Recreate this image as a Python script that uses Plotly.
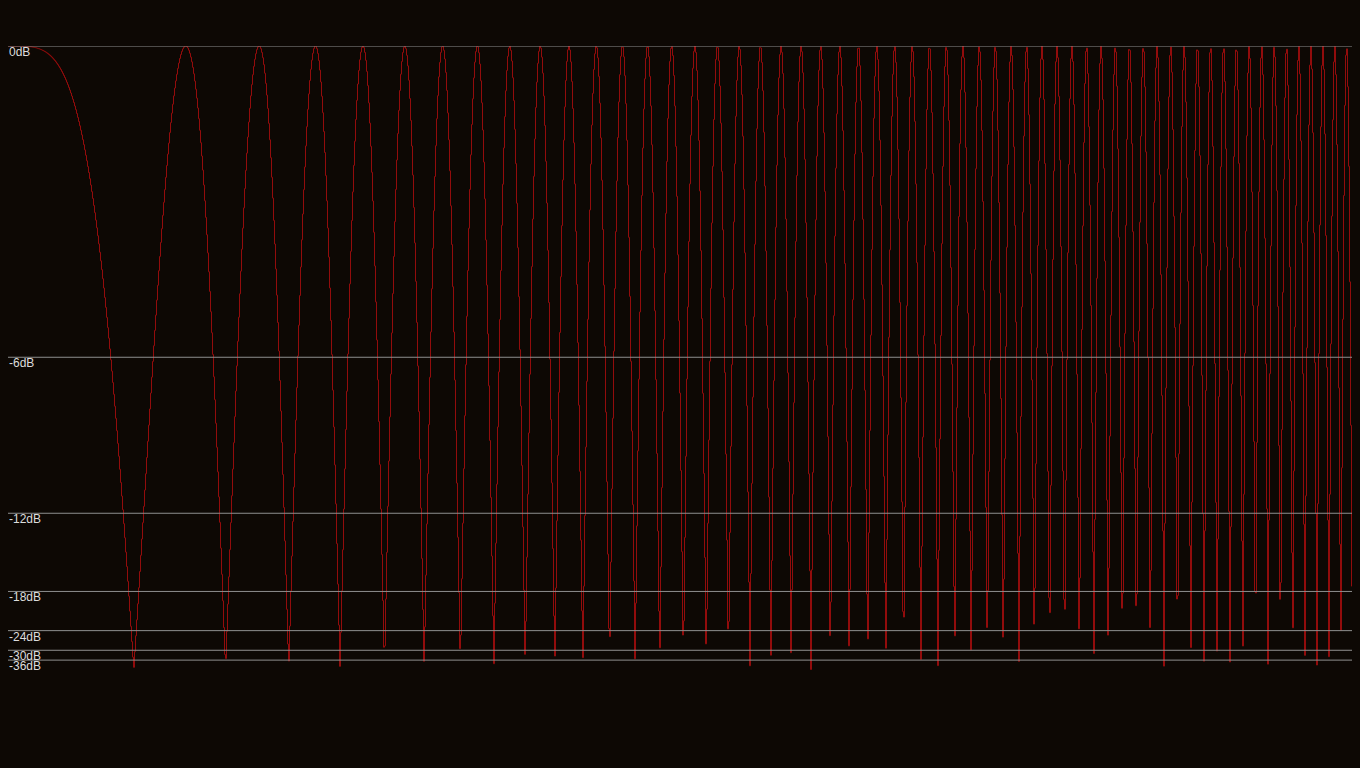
import numpy as np
import plotly.graph_objects as go

# ---- data ----
db_ticks = [0, -6, -12, -18, -24, -30, -36]
tick_labels = ["0dB", "-6dB", "-12dB", "-18dB", "-24dB", "-30dB", "-36dB"]
comb_delay_samples = 115          # feed-forward comb delay (samples)
comb_gains = [0.5, 0.5]           # direct path gain, delayed path gain
n_columns = 1344                  # one response sample per screen column

BG = "#0d0804"
CURVE = "#920c0c"
GRID = "#8f8f8f"
TEXT = "#dcdcdc"

# frequency axis: sqrt-warped normalised frequency (0 .. Nyquist), sampled at column centres
u = (np.arange(n_columns) + 0.5) / n_columns
omega = np.pi * u ** 2
H = comb_gains[0] + comb_gains[1] * np.exp(-1j * omega * comb_delay_samples)
mag = np.abs(H)

tick_amp = [10 ** (d / 20.0) for d in db_ticks]

fig = go.Figure()
fig.add_trace(go.Scatter(
    x=u, y=mag, mode="lines",
    line=dict(color=CURVE, width=1, shape="hv"),
    hoverinfo="skip", showlegend=False,
))

shapes = []
annotations = []
for amp, lab in zip(tick_amp, tick_labels):
    shapes.append(dict(type="line", xref="paper", yref="y", x0=0, x1=1,
                       y0=amp, y1=amp, layer="above",
                       line=dict(color=GRID, width=1)))
    annotations.append(dict(xref="paper", yref="y", x=0, y=amp,
                            xanchor="left", yanchor="top", text=lab,
                            showarrow=False, borderpad=0, yshift=2,
                            font=dict(family="Liberation Sans, Arial", size=12, color=TEXT)))

fig.update_layout(
    width=1360, height=768,
    paper_bgcolor=BG, plot_bgcolor=BG,
    margin=dict(l=8, r=8, t=46, b=98),
    xaxis=dict(range=[0, 1], visible=False, fixedrange=True),
    yaxis=dict(range=[0, 1], visible=False, fixedrange=True),
    shapes=shapes, annotations=annotations,
    showlegend=False,
)

fig.write_html("out.html", config={"displayModeBar": False})
